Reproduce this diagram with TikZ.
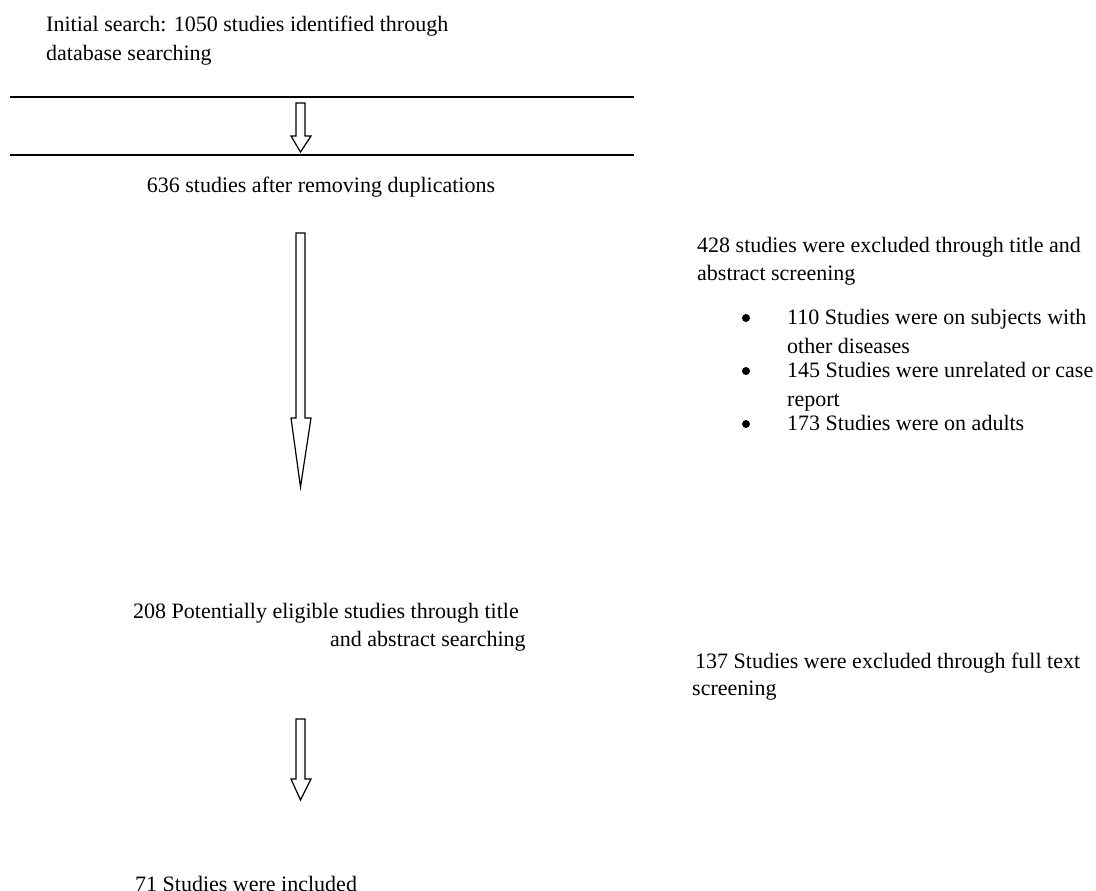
\documentclass[tikz,border=0pt]{standalone}
\usepackage{fontspec}
\setmainfont{Liberation Serif}
\begin{document}
\begin{tikzpicture}[x=1pt,y=-1pt,
  txt/.style={anchor=base west,inner sep=0pt,font=\fontsize{22}{26}\selectfont},
  rule/.style={line width=1.8pt},
  blockarrow/.style={draw,line width=1.2pt,fill=white,line join=miter},
  dot/.style={circle,fill=black,inner sep=0pt,minimum size=8pt}]
\useasboundingbox (0,0) rectangle (1096,891);
% texts
\node[txt] (t1a) at (46,32) {Initial search: 1050 studies identified through};
\node[txt] (t1b) at (46,61) {database searching};
\node[txt,anchor=base] (t2) at (321,192) {636 studies after removing duplications};
\node[txt] (e1a) at (697,252) {428 studies were excluded through title and};
\node[txt] (e1b) at (697,280) {abstract screening};
\node[dot] (b1) at (746,318) {};
\node[dot] (b2) at (746,371) {};
\node[dot] (b3) at (746,424) {};
\node[txt] (i1a) at (787,324) {110 Studies were on subjects with};
\node[txt] (i1b) at (787,353) {other diseases};
\node[txt] (i2a) at (787,377) {145 Studies were unrelated or case};
\node[txt] (i2b) at (787,406) {report};
\node[txt] (i3) at (787,430) {173 Studies were on adults};
\node[txt] (t3a) at (133,618) {208 Potentially eligible studies through title};
\node[txt] (t3b) at (330,646) {and abstract searching};
\node[txt] (e2a) at (695,668) {137 Studies were excluded through full text};
\node[txt] (e2b) at (692,695) {screening};
\node[txt] (t4) at (135,891) {71 Studies were included};
% rules
\coordinate (r1l) at (10,97); \coordinate (r1r) at (634,97);
\coordinate (r2l) at (10,155); \coordinate (r2r) at (634,155);
\draw[rule] (r1l) -- (r1r);
\draw[rule] (r2l) -- (r2r);
% block arrows
\draw[blockarrow] (296,103) -- (305,103) -- (305,136) -- (311,136) -- (300.5,152) -- (291,136) -- (296,136) -- cycle;
\draw[blockarrow] (296,233) -- (305,233) -- (305,418) -- (311,418) -- (300.5,487) -- (291,418) -- (296,418) -- cycle;
\draw[blockarrow] (296,719) -- (305,719) -- (305,779) -- (311,779) -- (300.5,800) -- (291,779) -- (296,779) -- cycle;
\end{tikzpicture}
\end{document}
